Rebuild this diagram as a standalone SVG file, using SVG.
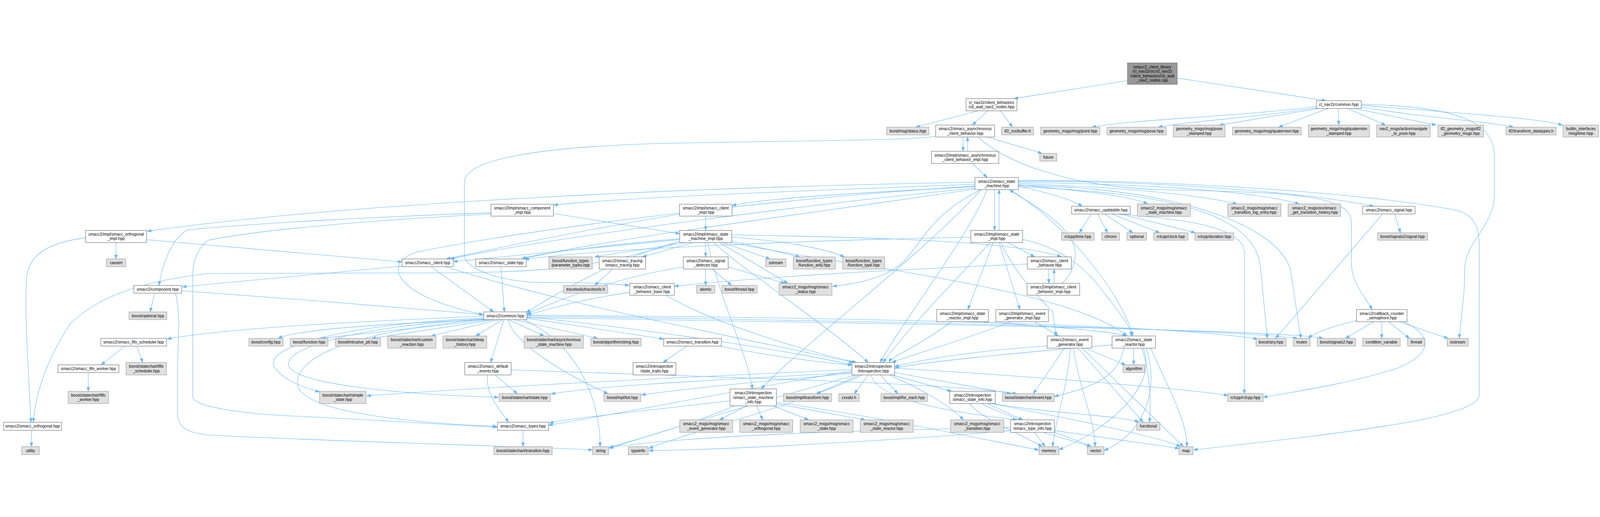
<svg xmlns="http://www.w3.org/2000/svg" width="5381" height="1323" viewBox="0 0 5381 1323" preserveAspectRatio="xMidYMid meet">
<style>
:root{width:100vw;height:100vh}
.w rect{fill:#ffffff;stroke:#666666;stroke-width:1.4}
.g rect{fill:#e0e0e0;stroke:#999999;stroke-width:1.4}
.r rect{fill:#999999;stroke:#666666;stroke-width:1.4}
text{font-family:"Liberation Sans",Arial,Helvetica,sans-serif;font-size:13.33px;text-anchor:middle;fill:#000000}
#edges path{fill:none;stroke:#63b8ff;stroke-width:1.4;marker-end:url(#ah)}
</style>
<defs>
<marker id="ah" viewBox="0 0 14 10" refX="14" refY="5" markerWidth="14" markerHeight="10" orient="auto" markerUnits="userSpaceOnUse"><path d="M0,0 L14,5 L0,10 Z" fill="#63b8ff" stroke="#63b8ff" stroke-width="1"/></marker>
</defs>
<rect width="5381" height="1323" fill="#ffffff"/>
<g id="edges">
<path d="M3800,62 L3410,124"/>
<path d="M3959,55 L4460,131"/>
<path d="M3290,165 L3080,220"/>
<path d="M3322,165 L3270,213"/>
<path d="M3365,165 L3405,220"/>
<path d="M4427,151 C4150,185 3800,195 3672,220"/>
<path d="M4430,155 C4200,190 4000,200 3895,220"/>
<path d="M4437,157 L4100,213"/>
<path d="M4467,157 L4300,220"/>
<path d="M4502,157 L4502,213"/>
<path d="M4532,157 L4660,213"/>
<path d="M4553,157 L4830,213"/>
<path d="M4578,152 C4800,190 5000,200 5090,220"/>
<path d="M4578,146 C4850,170 5150,185 5255,213"/>
<path d="M4578,143 C4900,150 5026,200 5026,320 L5026,440 C5026,560 4926,600 4926,700 C4926,800 4910,880 4908,930"/>
<path d="M3239,253 L3239,301"/>
<path d="M3254,301 L3254,253"/>
<path d="M3270,342 L3320,389"/>
<path d="M3320,253 L3505,308"/>
<path d="M3147,250 C3100,262 2900,263 2300,273 C1800,282 1562,330 1562,405 L1562,650 C1562,700 1700,742 1820,742 C1950,742 2050,745 2116,752"/>
<path d="M3290,253 C3380,340 3600,420 3900,430 C4300,440 4545,440 4545,540 L4545,680 C4545,740 4590,790 4615,833"/>
<path d="M3279,412 C2800,430 2100,455 1862,482"/>
<path d="M3279,405 C2400,420 1200,470 495,570"/>
<path d="M3279,420 C2900,440 2550,460 2462,484"/>
<path d="M3345,430 L3345,567"/>
<path d="M3360,567 L3360,430"/>
<path d="M3425,418 C3520,440 3600,460 3640,486"/>
<path d="M3425,414 C3600,430 3800,450 3860,478"/>
<path d="M3425,410 C3700,420 4000,440 4160,478"/>
<path d="M3425,406 C3800,410 4200,430 4370,478"/>
<path d="M3425,402 C3900,400 4400,440 4620,486"/>
<path d="M3425,400 C3900,395 4600,440 4900,500 C4960,515 4975,560 4975,620 L4975,1120 C4975,1200 4500,1250 4014,1305"/>
<path d="M3279,425 C2700,480 1800,600 1515,663"/>
<path d="M2285,512 C2000,560 1700,620 1500,663"/>
<path d="M3279,428 C2800,500 2000,600 1760,663"/>
<path d="M2286,595 C2000,620 1800,645 1755,663"/>
<path d="M3265,590 C2700,600 2000,630 1765,665"/>
<path d="M3279,418 C2600,460 1800,560 1400,640 C1280,680 1330,790 1625,850"/>
<path d="M3320,430 C3250,600 3050,850 2960,1011"/>
<path d="M3300,430 C3100,650 2700,950 2560,1100"/>
<path d="M3300,430 C3150,500 3100,600 3050,660 C3000,720 2900,745 2800,755"/>
<path d="M3395,430 C3600,550 3780,800 3810,922"/>
<path d="M3425,420 C3900,440 4230,500 4240,700 L4262,930"/>
<path d="M3425,416 C3950,420 4300,550 4340,700 L4375,930"/>
<path d="M2286,598 L1524,672"/>
<path d="M2308,608 L2000,656"/>
<path d="M2330,608 L2160,656"/>
<path d="M2373,608 L2373,656"/>
<path d="M2430,608 L2590,663"/>
<path d="M2450,600 L2690,656"/>
<path d="M2461,590 C2600,600 2750,620 2840,656"/>
<path d="M2420,608 L2650,745"/>
<path d="M2286,605 C2100,650 1900,760 1770,843"/>
<path d="M2400,608 C2500,700 2800,900 2920,1011"/>
<path d="M2300,600 C2000,700 1800,710 1400,710 L700,712 C450,740 320,800 237,880 C170,980 120,1100 112,1212"/>
<path d="M2461,582 C2900,590 3400,600 3570,656"/>
<path d="M2455,608 C2800,680 3600,760 3790,922"/>
<path d="M2380,608 C2420,800 2520,1000 2530,1100"/>
<path d="M2373,519 L2373,567"/>
<path d="M1861,510 L2286,578"/>
<path d="M1651,508 C1300,520 900,540 632,565 C580,590 545,680 535,752"/>
<path d="M1651,512 C1300,530 900,560 700,600 C660,630 648,680 648,720 L648,1130 C660,1160 800,1180 960,1190 C1300,1205 1550,1225 1673,1228"/>
<path d="M390,608 L390,663"/>
<path d="M288,592 C180,605 100,640 90,720 C80,850 100,1100 104,1212"/>
<path d="M493,598 L1352,673"/>
<path d="M1450,689 L1660,841"/>
<path d="M1352,687 L613,757"/>
<path d="M1500,689 C1900,820 2600,950 2870,1011"/>
<path d="M1685,689 L1696,841"/>
<path d="M520,778 L505,841"/>
<path d="M611,770 C900,790 1400,830 1627,850"/>
<path d="M590,778 C610,850 597,950 597,1050 L597,1180 C600,1230 620,1245 700,1255 C1200,1280 1700,1290 1993,1305"/>
<path d="M1627,855 C1300,870 800,890 562,932"/>
<path d="M1640,867 C1300,880 1000,900 935,930"/>
<path d="M1650,867 L1080,930"/>
<path d="M1665,867 L1250,930"/>
<path d="M1680,867 L1450,922"/>
<path d="M1690,867 L1600,922"/>
<path d="M1710,867 L1830,922"/>
<path d="M1730,867 L2010,930"/>
<path d="M1772,862 L2232,932"/>
<path d="M1695,867 L1650,1011"/>
<path d="M1708,867 C1730,950 1900,1050 2045,1116"/>
<path d="M1772,858 C2200,900 2700,980 2868,1020"/>
<path d="M1627,862 C1200,880 900,950 920,1020 C940,1060 1000,1090 1075,1110"/>
<path d="M1627,865 C1200,890 960,960 970,1020 C990,1090 1400,1120 1677,1128"/>
<path d="M1627,866 C1150,910 1000,1000 1000,1080 C1000,1180 1400,1215 1671,1226"/>
<path d="M1760,867 C1950,950 2020,1150 2018,1294"/>
<path d="M1772,855 C2800,870 4000,890 4365,930"/>
<path d="M1772,852 C2800,860 3900,880 4230,932"/>
<path d="M1772,860 C3000,880 4300,900 4450,930"/>
<path d="M1665,1053 L1740,1116"/>
<path d="M1640,1053 C1630,1120 1690,1180 1710,1212"/>
<path d="M1719,1036 C2400,1060 3200,1080 3420,1116"/>
<path d="M2310,956 L2230,1011"/>
<path d="M2420,956 C2600,990 2750,1010 2865,1020"/>
<path d="M1759,1239 L1759,1294"/>
<path d="M2890,1053 L2745,1116"/>
<path d="M2920,1053 L2873,1116"/>
<path d="M2960,1053 L3020,1116"/>
<path d="M3000,1053 L3200,1108"/>
<path d="M3009,1045 L3400,1116"/>
<path d="M3009,1030 C3500,1060 4000,1100 4130,1122"/>
<path d="M2930,1053 C2950,1150 3300,1190 3420,1204"/>
<path d="M2990,1053 C3100,1100 3200,1160 3240,1204"/>
<path d="M2865,1040 C2500,1100 2100,1180 1845,1222"/>
<path d="M2865,1035 C2300,1060 1700,1090 1233,1123"/>
<path d="M2865,1045 C2400,1070 2000,1090 1853,1117"/>
<path d="M2865,1048 C2500,1080 2300,1100 2157,1120"/>
<path d="M2900,1053 C2700,1150 2300,1250 2182,1300"/>
<path d="M2880,1053 C2600,1130 2200,1250 2049,1300"/>
<path d="M2510,1157 L2420,1204"/>
<path d="M2545,1157 L2565,1204"/>
<path d="M2600,1157 L2720,1204"/>
<path d="M2611,1150 L2910,1204"/>
<path d="M2455,1140 C2200,1170 1900,1200 1847,1215"/>
<path d="M2611,1145 C3000,1200 3300,1270 3494,1305"/>
<path d="M2470,1157 C2300,1230 2100,1280 2048,1298"/>
<path d="M3320,1149 L3440,1204"/>
<path d="M3340,1149 C3500,1180 3780,1190 3830,1212"/>
<path d="M3330,1149 C3600,1200 3900,1260 3970,1294"/>
<path d="M3260,1149 C3300,1200 3450,1260 3505,1294"/>
<path d="M3300,1149 C3400,1200 3600,1260 3670,1294"/>
<path d="M3480,1246 L3515,1294"/>
<path d="M3510,1246 L3670,1294"/>
<path d="M3546,1240 L3966,1300"/>
<path d="M3399,1230 C2800,1240 2300,1260 2049,1297"/>
<path d="M3399,1240 C3000,1275 2400,1306 2182,1307"/>
<path d="M3522,955 C3300,970 3100,1000 3009,1025"/>
<path d="M3650,963 L3785,1019"/>
<path d="M3580,963 L3475,1116"/>
<path d="M3600,963 C3590,1100 3550,1200 3540,1294"/>
<path d="M3610,963 C3630,1100 3680,1200 3683,1294"/>
<path d="M3625,963 L3845,1212"/>
<path d="M3640,963 L3980,1294"/>
<path d="M3740,952 C3400,980 3100,1010 3009,1030"/>
<path d="M3813,963 L3813,1019"/>
<path d="M3780,963 C3760,1050 3700,1090 3546,1125"/>
<path d="M3840,963 C3870,1050 3870,1150 3866,1212"/>
<path d="M3855,963 C3900,1100 3850,1250 3713,1307"/>
<path d="M3870,963 C3930,1100 3990,1200 3992,1294"/>
<path d="M3845,963 C3900,1100 3700,1250 3561,1304"/>
<path d="M3300,874 C3500,890 3700,900 3790,922"/>
<path d="M3200,874 C3100,950 3000,990 2990,1011"/>
<path d="M3480,874 L3560,922"/>
<path d="M3400,874 C3200,950 3050,990 3000,1011"/>
<path d="M3340,608 L3255,833"/>
<path d="M3360,608 L3430,833"/>
<path d="M3390,608 L3480,656"/>
<path d="M3330,608 C3200,750 3050,900 2970,1011"/>
<path d="M3365,608 C3420,720 3500,800 3540,840 L3552,922"/>
<path d="M3439,597 C3550,620 3640,680 3700,760 C3760,840 3800,880 3805,922"/>
<path d="M3527,697 L3527,745"/>
<path d="M3545,745 L3545,697"/>
<path d="M3455,680 C3000,700 2600,720 2268,755"/>
<path d="M3572,745 C3620,700 3625,640 3605,600 C3560,520 3450,470 3395,430"/>
<path d="M2118,775 C1950,800 1850,830 1772,852"/>
<path d="M2240,785 C2400,880 2700,970 2880,1011"/>
<path d="M2298,690 C2100,720 1900,790 1772,848"/>
<path d="M2373,697 L2373,752"/>
<path d="M2395,697 L2460,752"/>
<path d="M2449,690 L2640,745"/>
<path d="M2060,697 L2000,752"/>
<path d="M420,956 L340,1019"/>
<path d="M460,956 L480,1011"/>
<path d="M297,1045 L297,1108"/>
<path d="M106,1239 L106,1294"/>
<path d="M3670,512 L3630,575"/>
<path d="M3692,512 L3725,575"/>
<path d="M3715,512 L3810,575"/>
<path d="M3740,512 L3900,575"/>
<path d="M3770,512 L4020,575"/>
<path d="M3760,512 C3900,525 4180,540 4185,640 L4185,1116"/>
<path d="M4690,512 L4710,575"/>
<path d="M4650,512 L4290,930"/>
<path d="M4620,874 L4525,930"/>
<path d="M4647,874 L4647,930"/>
<path d="M4670,874 L4740,930"/>
<path d="M4705,874 L4870,930"/>
<path d="M4562,870 C4480,890 4420,910 4400,930"/>
<path d="M4720,874 C4820,920 4820,980 4700,1030 C4550,1080 4350,1110 4248,1128"/>
</g>
<g id="nodes">
<g id="root" class="r"><rect x="3792" y="4" width="167" height="72"/><text><tspan x="3875.5" y="22.2">smacc2_client_library</tspan><tspan x="3875.5" y="37.2">/cl_nav2z/src/cl_nav2z</tspan><tspan x="3875.5" y="52.2">/client_behaviors/cb_wait</tspan><tspan x="3875.5" y="67.2">_nav2_nodes.cpp</tspan></text></g>
<g id="cbwait" class="w"><rect x="3249" y="124" width="171" height="41"/><text><tspan x="3334.5" y="141.7">cl_nav2z/client_behaviors</tspan><tspan x="3334.5" y="156.7">/cb_wait_nav2_nodes.hpp</tspan></text></g>
<g id="clcommon" class="w"><rect x="4427" y="131" width="151" height="26"/><text x="4502.5" y="148.7">cl_nav2z/common.hpp</text></g>
<g id="bond" class="g"><rect x="2982" y="220" width="142" height="26"/><text x="3053" y="237.7">bond/msg/status.hpp</text></g>
<g id="async" class="w"><rect x="3147" y="213" width="198" height="40"/><text><tspan x="3246" y="230.2">smacc2/smacc_asynchronous</tspan><tspan x="3246" y="245.2">_client_behavior.hpp</tspan></text></g>
<g id="tf2buf" class="g"><rect x="3369" y="220" width="107" height="26"/><text x="3422.5" y="237.7">tf2_ros/buffer.h</text></g>
<g id="point" class="g"><rect x="3500" y="220" width="199" height="26"/><text x="3599.5" y="237.7">geometry_msgs/msg/point.hpp</text></g>
<g id="pose" class="g"><rect x="3723" y="220" width="199" height="26"/><text x="3822.5" y="237.7">geometry_msgs/msg/pose.hpp</text></g>
<g id="posest" class="g"><rect x="3946" y="213" width="174" height="40"/><text><tspan x="4033" y="230.2">geometry_msgs/msg/pose</tspan><tspan x="4033" y="245.2">_stamped.hpp</tspan></text></g>
<g id="quat" class="g"><rect x="4145" y="220" width="231" height="26"/><text x="4260.5" y="237.7">geometry_msgs/msg/quaternion.hpp</text></g>
<g id="quatst" class="g"><rect x="4400" y="213" width="206" height="40"/><text><tspan x="4503" y="230.2">geometry_msgs/msg/quaternion</tspan><tspan x="4503" y="245.2">_stamped.hpp</tspan></text></g>
<g id="nav2" class="g"><rect x="4630" y="213" width="180" height="40"/><text><tspan x="4720" y="230.2">nav2_msgs/action/navigate</tspan><tspan x="4720" y="245.2">_to_pose.hpp</tspan></text></g>
<g id="tf2geo" class="g"><rect x="4836" y="213" width="153" height="40"/><text><tspan x="4912.5" y="230.2">tf2_geometry_msgs/tf2</tspan><tspan x="4912.5" y="245.2">_geometry_msgs.hpp</tspan></text></g>
<g id="tf2dt" class="g"><rect x="5065" y="220" width="168" height="26"/><text x="5149" y="237.7">tf2/transform_datatypes.h</text></g>
<g id="btime" class="g"><rect x="5257" y="213" width="119" height="40"/><text><tspan x="5316.5" y="230.2">builtin_interfaces</tspan><tspan x="5316.5" y="245.2">/msg/time.hpp</tspan></text></g>
<g id="asyncimpl" class="w"><rect x="3133" y="301" width="226" height="41"/><text><tspan x="3246" y="318.7">smacc2/impl/smacc_asynchronous</tspan><tspan x="3246" y="333.7">_client_behavior_impl.hpp</tspan></text></g>
<g id="future" class="g"><rect x="3497" y="308" width="57" height="26"/><text x="3525.5" y="325.7">future</text></g>
<g id="sm" class="w"><rect x="3279" y="389" width="146" height="41"/><text><tspan x="3352" y="406.7">smacc2/smacc_state</tspan><tspan x="3352" y="421.7">_machine.hpp</tspan></text></g>
<g id="compimpl" class="w"><rect x="1651" y="479" width="210" height="40"/><text><tspan x="1756" y="496.2">smacc2/impl/smacc_component</tspan><tspan x="1756" y="511.2">_impl.hpp</tspan></text></g>
<g id="clientimpl" class="w"><rect x="2285" y="479" width="177" height="40"/><text><tspan x="2373.5" y="496.2">smacc2/impl/smacc_client</tspan><tspan x="2373.5" y="511.2">_impl.hpp</tspan></text></g>
<g id="updatable" class="w"><rect x="3604" y="486" width="197" height="26"/><text x="3702.5" y="503.7">smacc2/smacc_updatable.hpp</text></g>
<g id="msgsm" class="g"><rect x="3825" y="478" width="179" height="42"/><text><tspan x="3914.5" y="496.2">smacc2_msgs/msg/smacc</tspan><tspan x="3914.5" y="511.2">_state_machine.hpp</tspan></text></g>
<g id="msgtle" class="g"><rect x="4129" y="478" width="179" height="42"/><text><tspan x="4218.5" y="496.2">smacc2_msgs/msg/smacc</tspan><tspan x="4218.5" y="511.2">_transition_log_entry.hpp</tspan></text></g>
<g id="srvgth" class="g"><rect x="4332" y="478" width="176" height="42"/><text><tspan x="4420" y="496.2">smacc2_msgs/srv/smacc</tspan><tspan x="4420" y="511.2">_get_transition_history.hpp</tspan></text></g>
<g id="signal" class="w"><rect x="4583" y="486" width="176" height="26"/><text x="4671" y="503.7">smacc2/smacc_signal.hpp</text></g>
<g id="orthimpl" class="w"><rect x="288" y="567" width="205" height="41"/><text><tspan x="390.5" y="584.7">smacc2/impl/smacc_orthogonal</tspan><tspan x="390.5" y="599.7">_impl.hpp</tspan></text></g>
<g id="smimpl" class="w"><rect x="2286" y="567" width="175" height="41"/><text><tspan x="2373.5" y="584.7">smacc2/impl/smacc_state</tspan><tspan x="2373.5" y="599.7">_machine_impl.hpp</tspan></text></g>
<g id="stateimpl" class="w"><rect x="3265" y="567" width="174" height="41"/><text><tspan x="3352" y="584.7">smacc2/impl/smacc_state</tspan><tspan x="3352" y="599.7">_impl.hpp</tspan></text></g>
<g id="rtime" class="g"><rect x="3570" y="575" width="110" height="25"/><text x="3625" y="592.2">rclcpp/time.hpp</text></g>
<g id="chrono" class="g"><rect x="3705" y="575" width="60" height="25"/><text x="3735" y="592.2">chrono</text></g>
<g id="optional" class="g"><rect x="3790" y="575" width="66" height="25"/><text x="3823" y="592.2">optional</text></g>
<g id="rclock" class="g"><rect x="3880" y="575" width="115" height="25"/><text x="3937.5" y="592.2">rclcpp/clock.hpp</text></g>
<g id="rdur" class="g"><rect x="4019" y="575" width="130" height="25"/><text x="4084" y="592.2">rclcpp/duration.hpp</text></g>
<g id="sig2sig" class="g"><rect x="4633" y="575" width="168" height="25"/><text x="4717" y="592.2">boost/signals2/signal.hpp</text></g>
<g id="cassert" class="g"><rect x="358" y="663" width="65" height="26"/><text x="390.5" y="680.7">cassert</text></g>
<g id="client" class="w"><rect x="1352" y="663" width="172" height="26"/><text x="1438" y="680.7">smacc2/smacc_client.hpp</text></g>
<g id="state" class="w"><rect x="1600" y="663" width="170" height="26"/><text x="1685" y="680.7">smacc2/smacc_state.hpp</text></g>
<g id="ftparam" class="g"><rect x="1846" y="656" width="146" height="41"/><text><tspan x="1919" y="673.7">boost/function_types</tspan><tspan x="1919" y="688.7">/parameter_types.hpp</tspan></text></g>
<g id="tracing" class="w"><rect x="2015" y="656" width="156" height="41"/><text><tspan x="2093" y="673.7">smacc2/smacc_tracing</tspan><tspan x="2093" y="688.7">/smacc_tracing.hpp</tspan></text></g>
<g id="sigdet" class="w"><rect x="2298" y="656" width="151" height="41"/><text><tspan x="2373.5" y="673.7">smacc2/smacc_signal</tspan><tspan x="2373.5" y="688.7">_detector.hpp</tspan></text></g>
<g id="sstream" class="g"><rect x="2575" y="663" width="68" height="26"/><text x="2609" y="680.7">sstream</text></g>
<g id="ftarity" class="g"><rect x="2668" y="656" width="141" height="41"/><text><tspan x="2738.5" y="673.7">boost/function_types</tspan><tspan x="2738.5" y="688.7">/function_arity.hpp</tspan></text></g>
<g id="fttype" class="g"><rect x="2834" y="656" width="141" height="41"/><text><tspan x="2904.5" y="673.7">boost/function_types</tspan><tspan x="2904.5" y="688.7">/function_type.hpp</tspan></text></g>
<g id="cb" class="w"><rect x="3455" y="656" width="148" height="41"/><text><tspan x="3529" y="673.7">smacc2/smacc_client</tspan><tspan x="3529" y="688.7">_behavior.hpp</tspan></text></g>
<g id="component" class="w"><rect x="450" y="752" width="161" height="26"/><text x="530.5" y="769.7">smacc2/component.hpp</text></g>
<g id="tracetools" class="g"><rect x="1895" y="752" width="149" height="26"/><text x="1969.5" y="769.7">tracetools/tracetools.h</text></g>
<g id="cbbase" class="w"><rect x="2118" y="745" width="150" height="40"/><text><tspan x="2193" y="762.2">smacc2/smacc_client</tspan><tspan x="2193" y="777.2">_behavior_base.hpp</tspan></text></g>
<g id="atomic" class="g"><rect x="2343" y="752" width="61" height="26"/><text x="2373.5" y="769.7">atomic</text></g>
<g id="bthread" class="g"><rect x="2428" y="752" width="118" height="26"/><text x="2487" y="769.7">boost/thread.hpp</text></g>
<g id="status" class="g"><rect x="2620" y="745" width="178" height="40"/><text><tspan x="2709" y="762.2">smacc2_msgs/msg/smacc</tspan><tspan x="2709" y="777.2">_status.hpp</tspan></text></g>
<g id="cbimpl" class="w"><rect x="3454" y="745" width="177" height="40"/><text><tspan x="3542.5" y="762.2">smacc2/impl/smacc_client</tspan><tspan x="3542.5" y="777.2">_behavior_impl.hpp</tspan></text></g>
<g id="boptional" class="g"><rect x="434" y="841" width="127" height="26"/><text x="497.5" y="858.7">boost/optional.hpp</text></g>
<g id="common" class="w"><rect x="1627" y="841" width="145" height="26"/><text x="1699.5" y="858.7">smacc2/common.hpp</text></g>
<g id="srimpl" class="w"><rect x="3150" y="833" width="174" height="41"/><text><tspan x="3237" y="850.7">smacc2/impl/smacc_state</tspan><tspan x="3237" y="865.7">_reactor_impl.hpp</tspan></text></g>
<g id="egimpl" class="w"><rect x="3349" y="833" width="177" height="41"/><text><tspan x="3437.5" y="850.7">smacc2/impl/smacc_event</tspan><tspan x="3437.5" y="865.7">_generator_impl.hpp</tspan></text></g>
<g id="ccs" class="w"><rect x="4562" y="833" width="170" height="41"/><text><tspan x="4647" y="850.7">smacc2/callback_counter</tspan><tspan x="4647" y="865.7">_semaphore.hpp</tspan></text></g>
<g id="fifosched" class="w"><rect x="339" y="930" width="221" height="26"/><text x="449.5" y="947.7">smacc2/smacc_fifo_scheduler.hpp</text></g>
<g id="bconfig" class="g"><rect x="837" y="930" width="115" height="26"/><text x="894.5" y="947.7">boost/config.hpp</text></g>
<g id="bfunction" class="g"><rect x="976" y="930" width="127" height="26"/><text x="1039.5" y="947.7">boost/function.hpp</text></g>
<g id="bintr" class="g"><rect x="1128" y="930" width="152" height="26"/><text x="1204" y="947.7">boost/intrusive_ptr.hpp</text></g>
<g id="custom" class="g"><rect x="1304" y="922" width="162" height="41"/><text><tspan x="1385" y="939.7">boost/statechart/custom</tspan><tspan x="1385" y="954.7">_reaction.hpp</tspan></text></g>
<g id="deep" class="g"><rect x="1490" y="922" width="147" height="41"/><text><tspan x="1563.5" y="939.7">boost/statechart/deep</tspan><tspan x="1563.5" y="954.7">_history.hpp</tspan></text></g>
<g id="asm" class="g"><rect x="1763" y="922" width="199" height="41"/><text><tspan x="1862.5" y="939.7">boost/statechart/asynchronous</tspan><tspan x="1862.5" y="954.7">_state_machine.hpp</tspan></text></g>
<g id="bstring" class="g"><rect x="1987" y="930" width="169" height="26"/><text x="2071.5" y="947.7">boost/algorithm/string.hpp</text></g>
<g id="transition" class="w"><rect x="2232" y="930" width="194" height="26"/><text x="2329" y="947.7">smacc2/smacc_transition.hpp</text></g>
<g id="eg" class="w"><rect x="3522" y="922" width="150" height="41"/><text><tspan x="3597" y="939.7">smacc2/smacc_event</tspan><tspan x="3597" y="954.7">_generator.hpp</tspan></text></g>
<g id="sr" class="w"><rect x="3740" y="922" width="146" height="41"/><text><tspan x="3813" y="939.7">smacc2/smacc_state</tspan><tspan x="3813" y="954.7">_reactor.hpp</tspan></text></g>
<g id="bany" class="g"><rect x="4224" y="930" width="101" height="26"/><text x="4274.5" y="947.7">boost/any.hpp</text></g>
<g id="mutex" class="g"><rect x="4349" y="930" width="57" height="26"/><text x="4377.5" y="947.7">mutex</text></g>
<g id="sig2" class="g"><rect x="4430" y="930" width="129" height="26"/><text x="4494.5" y="947.7">boost/signals2.hpp</text></g>
<g id="condvar" class="g"><rect x="4583" y="930" width="126" height="26"/><text x="4646" y="947.7">condition_variable</text></g>
<g id="thread" class="g"><rect x="4734" y="930" width="58" height="26"/><text x="4763" y="947.7">thread</text></g>
<g id="iostream" class="g"><rect x="4867" y="930" width="71" height="26"/><text x="4902.5" y="947.7">iostream</text></g>
<g id="fifoworker" class="w"><rect x="195" y="1019" width="205" height="26"/><text x="297.5" y="1036.7">smacc2/smacc_fifo_worker.hpp</text></g>
<g id="bfifosched" class="g"><rect x="424" y="1011" width="136" height="42"/><text><tspan x="492" y="1029.2">boost/statechart/fifo</tspan><tspan x="492" y="1044.2">_scheduler.hpp</tspan></text></g>
<g id="defevents" class="w"><rect x="1563" y="1011" width="156" height="42"/><text><tspan x="1641" y="1029.2">smacc2/smacc_default</tspan><tspan x="1641" y="1044.2">_events.hpp</tspan></text></g>
<g id="straits" class="w"><rect x="2129" y="1011" width="144" height="42"/><text><tspan x="2201" y="1029.2">smacc2/introspection</tspan><tspan x="2201" y="1044.2">/state_traits.hpp</tspan></text></g>
<g id="intro" class="w"><rect x="2865" y="1011" width="144" height="42"/><text><tspan x="2937" y="1029.2">smacc2/introspection</tspan><tspan x="2937" y="1044.2">/introspection.hpp</tspan></text></g>
<g id="algorithm" class="g"><rect x="3777" y="1019" width="73" height="26"/><text x="3813.5" y="1036.7">algorithm</text></g>
<g id="bfifoworker" class="g"><rect x="229" y="1108" width="136" height="41"/><text><tspan x="297" y="1125.7">boost/statechart/fifo</tspan><tspan x="297" y="1140.7">_worker.hpp</tspan></text></g>
<g id="simple" class="g"><rect x="1075" y="1108" width="156" height="41"/><text><tspan x="1153" y="1125.7">boost/statechart/simple</tspan><tspan x="1153" y="1140.7">_state.hpp</tspan></text></g>
<g id="bstate" class="g"><rect x="1679" y="1116" width="172" height="26"/><text x="1765" y="1133.7">boost/statechart/state.hpp</text></g>
<g id="mpllist" class="g"><rect x="2031" y="1116" width="124" height="26"/><text x="2093" y="1133.7">boost/mpl/list.hpp</text></g>
<g id="sminfo" class="w"><rect x="2455" y="1100" width="156" height="57"/><text><tspan x="2533" y="1118.2">smacc2/introspection</tspan><tspan x="2533" y="1133.2">/smacc_state_machine</tspan><tspan x="2533" y="1148.2">_info.hpp</tspan></text></g>
<g id="mpltransform" class="g"><rect x="2635" y="1116" width="162" height="26"/><text x="2716" y="1133.7">boost/mpl/transform.hpp</text></g>
<g id="cxxabi" class="g"><rect x="2821" y="1116" width="68" height="26"/><text x="2855" y="1133.7">cxxabi.h</text></g>
<g id="foreach" class="g"><rect x="2963" y="1116" width="156" height="26"/><text x="3041" y="1133.7">boost/mpl/for_each.hpp</text></g>
<g id="stinfo" class="w"><rect x="3194" y="1108" width="153" height="41"/><text><tspan x="3270.5" y="1125.7">smacc2/introspection</tspan><tspan x="3270.5" y="1140.7">/smacc_state_info.hpp</tspan></text></g>
<g id="bevent" class="g"><rect x="3371" y="1116" width="175" height="26"/><text x="3458.5" y="1133.7">boost/statechart/event.hpp</text></g>
<g id="rclcpp" class="g"><rect x="4129" y="1116" width="119" height="26"/><text x="4188.5" y="1133.7">rclcpp/rclcpp.hpp</text></g>
<g id="orthogonal" class="w"><rect x="12" y="1212" width="195" height="27"/><text x="109.5" y="1230.2">smacc2/smacc_orthogonal.hpp</text></g>
<g id="types" class="w"><rect x="1673" y="1212" width="172" height="27"/><text x="1759" y="1230.2">smacc2/smacc_types.hpp</text></g>
<g id="msgeg" class="g"><rect x="2286" y="1204" width="178" height="42"/><text><tspan x="2375" y="1222.2">smacc2_msgs/msg/smacc</tspan><tspan x="2375" y="1237.2">_event_generator.hpp</tspan></text></g>
<g id="msgorth" class="g"><rect x="2488" y="1204" width="178" height="42"/><text><tspan x="2577" y="1222.2">smacc2_msgs/msg/smacc</tspan><tspan x="2577" y="1237.2">_orthogonal.hpp</tspan></text></g>
<g id="msgstate" class="g"><rect x="2691" y="1204" width="178" height="42"/><text><tspan x="2780" y="1222.2">smacc2_msgs/msg/smacc</tspan><tspan x="2780" y="1237.2">_state.hpp</tspan></text></g>
<g id="msgsr" class="g"><rect x="2893" y="1204" width="178" height="42"/><text><tspan x="2982" y="1222.2">smacc2_msgs/msg/smacc</tspan><tspan x="2982" y="1237.2">_state_reactor.hpp</tspan></text></g>
<g id="msgtrans" class="g"><rect x="3197" y="1204" width="179" height="42"/><text><tspan x="3286.5" y="1222.2">smacc2_msgs/msg/smacc</tspan><tspan x="3286.5" y="1237.2">_transition.hpp</tspan></text></g>
<g id="typeinfon" class="w"><rect x="3399" y="1204" width="147" height="42"/><text><tspan x="3472.5" y="1222.2">smacc2/introspection</tspan><tspan x="3472.5" y="1237.2">/smacc_type_info.hpp</tspan></text></g>
<g id="functional" class="g"><rect x="3823" y="1212" width="78" height="27"/><text x="3862" y="1230.2">functional</text></g>
<g id="utility" class="g"><rect x="73" y="1294" width="59" height="27"/><text x="102.5" y="1312.2">utility</text></g>
<g id="btrans" class="g"><rect x="1661" y="1294" width="196" height="27"/><text x="1759" y="1312.2">boost/statechart/transition.hpp</text></g>
<g id="string" class="g"><rect x="1993" y="1294" width="54" height="27"/><text x="2020" y="1312.2">string</text></g>
<g id="typeinfo" class="g"><rect x="2113" y="1294" width="67" height="27"/><text x="2146.5" y="1312.2">typeinfo</text></g>
<g id="memory" class="g"><rect x="3494" y="1294" width="67" height="27"/><text x="3527.5" y="1312.2">memory</text></g>
<g id="vector" class="g"><rect x="3657" y="1294" width="56" height="27"/><text x="3685" y="1312.2">vector</text></g>
<g id="map" class="g"><rect x="3965" y="1294" width="47" height="27"/><text x="3988.5" y="1312.2">map</text></g>
</g>
</svg>
